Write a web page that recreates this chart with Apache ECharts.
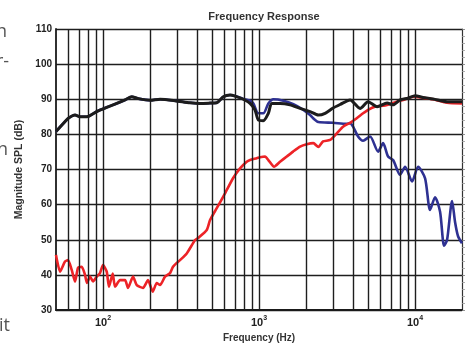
<!DOCTYPE html>
<html><head><meta charset="utf-8">
<script src="https://cdn.jsdelivr.net/npm/echarts@6/dist/echarts.min.js"></script>
<style>html,body{margin:0;padding:0;background:#fff}#c{width:469px;height:344px}</style>
</head><body><div id="c"></div>
<script>
// ---- data ----
const blackFreq = [50,55.7,59.7,66.2,71.3,78.7,91.2,105.7,122.5,138.5,152.9,167.7,200.3,232.2,289.6,361.4,418.8,485.6,536,590.7,652.4,702.2,793.5,876.3,943.4,990.4,1066,1148,1207,1364,1581,1833,2125,2402,2651,2984,3307,3834,4443,5000,5710,6620,7234,8021,9023,10007,11260,13050,16050,20000];
const blackDb   = [80.8,83.1,84.5,85.5,85.0,85.0,86.5,87.7,88.8,89.8,90.7,90.2,89.7,90.0,89.6,89.0,88.8,88.9,89.0,90.7,91.2,90.9,90.0,88.8,86.9,84.1,83.9,86.0,88.8,88.8,88.4,87.4,86.5,85.5,86.0,87.5,88.5,89.8,87.4,89.3,87.9,88.9,88.4,89.8,90.3,91.0,90.5,90.1,89.3,89.3];

const blueFreq = [50,55.7,59.7,66.2,71.3,78.7,91.2,105.7,122.5,138.5,152.9,167.7,200.3,232.2,289.6,361.4,418.8,485.6,536,590.7,652.4,702.2,793.5,876.3,920,990.4,1066,1148,1236,1432,1661,1924,2125,2260,2402,2984,3638,3834,4008,4314,4645,5150,5798,6242,6718,7234,8021,8635,9575,10460,11600,12490,13440,14470,15360,16050,17280,18060,18870,20000];
const blueDb   = [80.8,83.1,84.5,85.5,85.0,85.0,86.5,87.7,88.8,89.8,90.7,90.2,89.7,90.0,89.6,89.0,88.8,88.9,89.0,90.7,91.2,90.9,90.1,89.6,88.8,86.0,86.0,88.8,90.0,89.6,88.6,87.0,85.5,84.3,83.5,83.3,83.0,83.2,82.2,79.4,78.2,79.4,75.1,77.5,73.7,72.7,68.5,70.8,66.6,70.8,67.5,58.5,62.1,58.0,48.3,50.0,61.0,55.0,51.0,49.0];

const redFreq = [50,53.1,57.1,59.7,63.05,66.2,69.2,73.1,76.7,79.0,82.6,86.4,91.2,95.7,100.1,105.7,109.3,115.5,119.5,128.6,138.5,144.7,155.8,164.6,180.6,194.4,208.4,221.1,232.2,249.9,269.1,281.2,297,311.8,344.2,389.1,406.7,462.6,485.6,536,605.7,681.7,755.8,834.4,876.3,967.4,1016,1093,1148,1249,1364,1506,1654,1833,2023,2230,2401,2573,2854,3150,3457,3834,4231,4645,5000,5546,6427,7638,8383,9716,11260,13050,16050,20000];
const redDb   = [45.7,40.9,43.8,44.2,41.4,38.1,42.0,42.3,40.0,37.7,39.5,38.1,39.5,40.5,42.8,40.9,36.6,40.4,36.6,38.5,38.5,36.3,39.5,37.1,36.3,38.5,35.2,37.7,37.1,39.5,40.5,42.3,43.4,44.2,46.1,49.9,50.5,52.8,55.6,59.0,63.2,67.5,70.3,72.2,72.7,73.2,73.5,73.7,72.7,70.8,72.2,73.7,75.1,76.5,77.2,77.5,76.4,78.0,78.4,80.3,82.2,83.3,84.6,86.0,87.0,87.9,88.2,89.3,89.8,90.7,90.4,90.0,89.0,88.8];

const gridFreqs = [60,70,80,90,100,200,300,400,500,600,700,800,900,1000,2000,3000,4000,5000,6000,7000,8000,9000,10000];
const yTicks = {min: 30, max: 110, step: 10};

const titleText = 'Frequency Response';
const xName = 'Frequency (Hz)';
const yName = 'Magnitude SPL (dB)';
const sideFragments = ['n', 'r-', 'n', 'it'];

// ---- chart ----
const FONT = 'Liberation Sans, Arial, sans-serif';
const SIDE_FONT = '18px "Open Sans", sans-serif';
const pairs = (fs, ds) => fs.map((f, i) => [f, ds[i]]);
const chart = echarts.init(document.getElementById('c'), null, {renderer: 'canvas'});

chart.setOption({
  animation: false,
  backgroundColor: '#fff',
  title: {
    text: titleText, left: 259, top: 6, textAlign: 'center',
    textStyle: {fontSize: 11, fontWeight: 'bold', color: '#333', fontFamily: FONT}
  },
  grid: {left: 56, right: 7, top: 29, bottom: 34, containLabel: false, outerBoundsMode: 'none'},
  xAxis: {
    type: 'log', logBase: 10, min: 50, max: 20000,
    name: xName, nameLocation: 'middle', nameGap: 21,
    nameTextStyle: {fontSize: 10, fontWeight: 'bold', color: '#333', fontFamily: FONT},
    axisLine: {show: true, lineStyle: {color: '#1a1a1a', width: 2}},
    axisTick: {show: false},
    splitLine: {show: false},
    axisLabel: {
      margin: 5,
      showMinLabel: false, showMaxLabel: false,
      formatter: function (v) {
        const e = Math.round(Math.log10(v));
        if (Math.abs(v - Math.pow(10, e)) / v < 1e-6) return '{b|10}{s|' + e + '}';
        return '';
      },
      rich: {
        b: {fontSize: 11, fontWeight: 'bold', color: '#222', fontFamily: FONT, lineHeight: 13, padding: [3, 0, 0, 0]},
        s: {fontSize: 7, fontWeight: 'bold', color: '#222', fontFamily: FONT, verticalAlign: 'top', lineHeight: 8}
      }
    }
  },
  yAxis: [{
    type: 'value', min: yTicks.min, max: yTicks.max, interval: yTicks.step,
    name: yName, nameLocation: 'middle', nameGap: 22,
    nameTextStyle: {fontSize: 10.5, fontWeight: 'bold', color: '#333', fontFamily: FONT},
    axisLine: {show: true, lineStyle: {color: '#1a1a1a', width: 1.8}},
    axisTick: {show: false},
    axisLabel: {margin: 4, fontSize: 10, fontWeight: 'bold', color: '#222', fontFamily: FONT},
    splitLine: {show: true, lineStyle: {color: '#1e1e1e', width: 1.4}}
  }, {
    type: 'value', min: yTicks.min, max: yTicks.max, interval: yTicks.step, position: 'right',
    axisLine: {show: true, lineStyle: {color: '#333', width: 1.2}},
    axisTick: {show: true, length: 3, lineStyle: {color: '#777', width: 0.8}},
    minorTick: {show: true, splitNumber: 5, length: 3, lineStyle: {color: '#999', width: 0.8}},
    axisLabel: {show: false},
    splitLine: {show: false}
  }],
  series: [
    {
      type: 'line', data: [[1000, 30]], symbol: 'none', lineStyle: {opacity: 0}, silent: true, z: 1,
      markLine: {
        silent: true, symbol: ['none', 'none'], label: {show: false},
        lineStyle: {color: '#1e1e1e', width: 1.4, type: 'solid'},
        data: gridFreqs.map(f => ({xAxis: f}))
      }
    },
    {type: 'line', name: 'blue', data: pairs(blueFreq, blueDb), symbol: 'none', smooth: 0.25, z: 3,
     lineStyle: {color: '#2e3192', width: 2.6}},
    {type: 'line', name: 'red', data: pairs(redFreq, redDb), symbol: 'none', smooth: 0.2, z: 4,
     lineStyle: {color: '#ed2327', width: 2.6}},
    {type: 'line', name: 'black', data: pairs(blackFreq, blackDb), symbol: 'none', smooth: 0.25, z: 5,
     lineStyle: {color: '#1c1c1c', width: 3}}
  ],
  graphic: [
    {type: 'text', left: -4, top: 23, style: {text: sideFragments[0], font: SIDE_FONT, fill: '#555'}},
    {type: 'text', left: -4, top: 53, style: {text: sideFragments[1], font: SIDE_FONT, fill: '#555'}},
    {type: 'text', left: -3, top: 141, style: {text: sideFragments[2], font: SIDE_FONT, fill: '#555'}},
    {type: 'text', left: -1, top: 317, style: {text: sideFragments[3], font: SIDE_FONT, fill: '#555'}}
  ]
});
</script></body></html>
